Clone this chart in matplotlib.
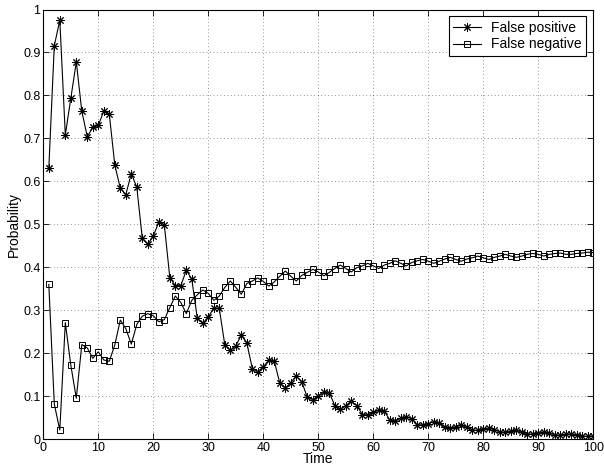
import numpy as np
import matplotlib
matplotlib.use('Agg')
import matplotlib.pyplot as plt

plt.rcParams['font.family'] = ['Liberation Sans', 'DejaVu Sans']

time = np.arange(1, 101)

false_positive = [
    0.630, 0.916, 0.975, 0.708, 0.793, 0.878, 0.763, 0.704, 0.726, 0.730,
    0.764, 0.756, 0.638, 0.584, 0.569, 0.618, 0.586, 0.467, 0.453, 0.473,
    0.505, 0.499, 0.376, 0.357, 0.357, 0.393, 0.372, 0.281, 0.269, 0.284,
    0.305, 0.304, 0.219, 0.207, 0.217, 0.242, 0.224, 0.164, 0.157, 0.168,
    0.184, 0.181, 0.130, 0.119, 0.131, 0.147, 0.133, 0.097, 0.092, 0.100,
    0.110, 0.108, 0.078, 0.069, 0.078, 0.088, 0.078, 0.057, 0.056, 0.062,
    0.067, 0.065, 0.044, 0.043, 0.048, 0.052, 0.047, 0.033, 0.033, 0.036,
    0.040, 0.038, 0.027, 0.025, 0.029, 0.032, 0.027, 0.021, 0.020, 0.023,
    0.025, 0.022, 0.016, 0.016, 0.018, 0.020, 0.016, 0.011, 0.012, 0.015,
    0.016, 0.014, 0.009, 0.009, 0.011, 0.012, 0.010, 0.007, 0.006, 0.007,
]

false_negative = [
    0.360, 0.081, 0.021, 0.271, 0.172, 0.095, 0.220, 0.212, 0.188, 0.203,
    0.184, 0.181, 0.219, 0.277, 0.257, 0.221, 0.267, 0.286, 0.292, 0.287,
    0.273, 0.278, 0.306, 0.333, 0.318, 0.292, 0.323, 0.336, 0.347, 0.339,
    0.323, 0.333, 0.353, 0.368, 0.353, 0.337, 0.362, 0.368, 0.375, 0.367,
    0.356, 0.366, 0.379, 0.391, 0.379, 0.368, 0.381, 0.388, 0.395, 0.389,
    0.380, 0.388, 0.397, 0.405, 0.397, 0.389, 0.399, 0.403, 0.409, 0.403,
    0.397, 0.405, 0.409, 0.415, 0.409, 0.403, 0.411, 0.415, 0.418, 0.414,
    0.409, 0.414, 0.419, 0.423, 0.418, 0.414, 0.419, 0.422, 0.426, 0.422,
    0.418, 0.423, 0.426, 0.430, 0.426, 0.423, 0.426, 0.430, 0.432, 0.430,
    0.426, 0.430, 0.432, 0.433, 0.430, 0.430, 0.432, 0.433, 0.435, 0.434,
]

fig = plt.figure(figsize=(6.04, 4.76), dpi=100)
ax = fig.add_axes([0.0717, 0.0777, 0.9106, 0.9023])

# MATLAB-style asterisk: 8 spokes
ax.plot(time, false_positive, color='black', lw=0.8, marker=(8, 2, 0),
        markersize=6, markeredgewidth=0.7, label='False positive')
ax.plot(time, false_negative, color='black', lw=0.8, marker='s',
        markersize=4.2, markerfacecolor='none', markeredgewidth=0.7,
        label='False negative')

ax.set_xlim(0, 100)
ax.set_ylim(0, 1)
ax.set_xticks(np.arange(0, 101, 10))
ax.set_yticks(np.arange(0, 1.01, 0.1))
ax.set_yticklabels(['0', '0.1', '0.2', '0.3', '0.4', '0.5',
                    '0.6', '0.7', '0.8', '0.9', '1'])
ax.tick_params(direction='in', top=True, right=True, labelsize=9,
               length=4, width=0.6, pad=2)
ax.grid(True, linestyle=(0, (1, 4)), color='black', linewidth=0.5, alpha=0.8)
for s in ax.spines.values():
    s.set_linewidth(0.8)

ax.set_xlabel('Time', fontsize=10, labelpad=-1)
ax.set_ylabel('Probability', fontsize=10, labelpad=2)

leg = ax.legend(loc='upper right', fontsize=10, frameon=True, fancybox=False,
                edgecolor='black', framealpha=1, handlelength=2.0,
                borderaxespad=0.5, labelspacing=0.15, borderpad=0.35,
                handletextpad=0.7)
leg.get_frame().set_linewidth(0.8)

fig.savefig('out.png', dpi=100)
